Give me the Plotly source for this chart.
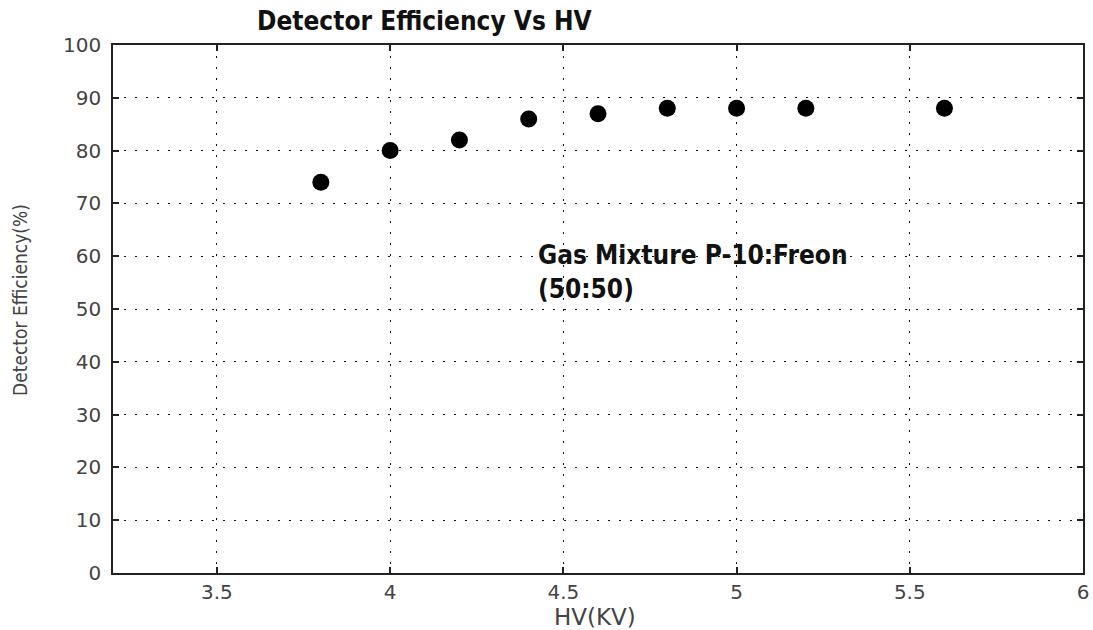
import plotly.graph_objects as go

hv_kv = [3.8, 4.0, 4.2, 4.4, 4.6, 4.8, 5.0, 5.2, 5.6]
efficiency = [74, 80, 82, 86, 87, 88, 88, 88, 88]
x_ticks = [3.5, 4, 4.5, 5, 5.5, 6]
x_ticklabels = ["3.5", "4", "4.5", "5", "5.5", "6"]
y_ticks = [0, 10, 20, 30, 40, 50, 60, 70, 80, 90, 100]

W, H = 1093, 630
ML, MT = 113, 45
MR = W - 1083
MB = H - 573
PW, PH = W - ML - MR, H - MT - MB


def px_x(sx):
    return (sx - ML) / PW


def px_y(sy):
    return 1 - (sy - MT) / PH


fig = go.Figure()
fig.add_trace(go.Scatter(
    x=hv_kv, y=efficiency, mode="markers",
    marker=dict(color="black", size=17, line=dict(width=0)),
    showlegend=False,
))

axis_common = dict(
    showline=True, linecolor="#222", linewidth=1.6, mirror="ticks",
    ticks="inside", ticklen=6, tickwidth=1.5, tickcolor="#222",
    showgrid=True, gridcolor="#111", gridwidth=1, griddash="2px,9px",
    zeroline=False, automargin=False,
    tickfont=dict(family="DejaVu Sans", size=20, color="#444"),
)

fig.update_xaxes(range=[3.2, 6], tickvals=x_ticks, ticktext=x_ticklabels,
                 ticklabelstandoff=0, **axis_common)
fig.update_yaxes(range=[0, 100], tickvals=y_ticks, ticklabelstandoff=6, **axis_common)

fig.add_annotation(
    x=4.42, y=63.5, xref="x", yref="y", xanchor="left", yanchor="top",
    text="Gas Mixture P-10:Freon<br>(50:50)", showarrow=False, align="left",
    font=dict(family="DejaVu Sans Condensed", size=26, color="#111", weight="bold"),
)
fig.add_annotation(
    x=px_x(424), y=px_y(21), xref="paper", yref="paper",
    xanchor="center", yanchor="middle", showarrow=False,
    text="Detector Efficiency Vs HV",
    font=dict(family="DejaVu Sans Condensed", size=26, color="#111", weight="bold"),
)
fig.add_annotation(
    x=px_x(595), y=px_y(617), xref="paper", yref="paper",
    xanchor="center", yanchor="middle", showarrow=False,
    text="HV(KV)", font=dict(family="DejaVu Sans", size=23, color="#444"),
)
fig.add_annotation(
    x=px_x(20), y=px_y(300), xref="paper", yref="paper",
    xanchor="center", yanchor="middle", showarrow=False, textangle=-90,
    text="Detector Efficiency(%)",
    font=dict(family="DejaVu Sans Condensed", size=19, color="#444"),
)

fig.update_layout(
    width=W, height=H,
    margin=dict(l=ML, r=MR, t=MT, b=MB),
    plot_bgcolor="white", paper_bgcolor="white",
)

fig.write_html(
    "out.html",
    config={"displayModeBar": False},
    post_script="document.body.style.margin='0';document.body.style.overflow='hidden';",
)
